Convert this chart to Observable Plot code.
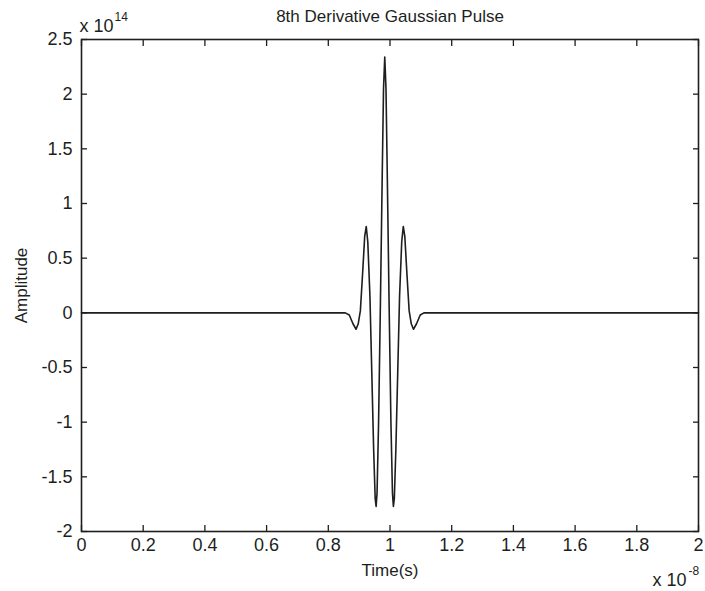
<!DOCTYPE html>
<html><head><meta charset="utf-8">
<script src="https://cdn.jsdelivr.net/npm/d3@7"></script>
<script src="https://cdn.jsdelivr.net/npm/@observablehq/plot@0.6"></script>
<style>html,body{margin:0;padding:0;background:#fff} svg{display:block}</style>
</head><body><div id="chart"></div>
<script>
// time in units of 1e-8 s, amplitude in units of 1e14
const time = [0, 0.855, 0.868, 0.880, 0.890, 0.897, 0.904, 0.911, 0.918, 0.923, 0.928, 0.935, 0.941, 0.947, 0.952, 0.955, 0.958, 0.963, 0.969, 0.975, 0.979, 0.983, 0.987, 0.991, 0.997, 1.003, 1.008, 1.011, 1.014, 1.019, 1.025, 1.031, 1.038, 1.043, 1.048, 1.055, 1.062, 1.069, 1.076, 1.086, 1.098, 1.110, 2];
const amplitude = [0, 0, -0.02, -0.10, -0.15, -0.10, 0.02, 0.35, 0.70, 0.79, 0.65, 0.15, -0.55, -1.25, -1.70, -1.77, -1.65, -1.00, 0.10, 1.30, 2.05, 2.34, 2.05, 1.30, 0.10, -1.00, -1.65, -1.77, -1.70, -1.25, -0.55, 0.15, 0.65, 0.79, 0.70, 0.35, 0.02, -0.10, -0.15, -0.10, -0.02, 0, 0];
const xTicks = [0, 0.2, 0.4, 0.6, 0.8, 1, 1.2, 1.4, 1.6, 1.8, 2];
const yTicks = [-2, -1.5, -1, -0.5, 0, 0.5, 1, 1.5, 2, 2.5];
const title = "8th Derivative Gaussian Pulse";
const xLabel = "Time(s)";
const yLabel = "Amplitude";
const xExponent = "-8";
const yExponent = "14";
const base = "x 10";

const data = time.map((t, i) => ({t, a: amplitude[i]}));
const font = "'Liberation Sans', Arial, Helvetica, sans-serif";
const ink = "#1c1f1c";
const fmt = d => String(d);

const chart = Plot.plot({
  width: 705, height: 591,
  marginLeft: 81, marginRight: 7, marginTop: 39, marginBottom: 60,
  style: {fontFamily: font, fontSize: "18px", background: "#fff", color: ink},
  x: {domain: [0, 2]},
  y: {domain: [-2, 2.5]},
  marks: [
    // tick labels
    Plot.axisX(xTicks, {anchor: "bottom", tickSize: 0, tickPadding: 7, tickFormat: fmt, label: null, fill: ink, fontSize: 18}),
    Plot.axisY(yTicks, {anchor: "left", tickSize: 0, tickPadding: 9, tickFormat: fmt, label: null, fill: ink, fontSize: 18}),
    // inward ticks on all four sides
    Plot.axisX(xTicks, {anchor: "bottom", tickSize: 6, dy: -6, tickFormat: () => "", label: null, stroke: ink, strokeWidth: 1.3}),
    Plot.axisX(xTicks, {anchor: "top", tickSize: 6, dy: 6, tickFormat: () => "", label: null, stroke: ink, strokeWidth: 1.3}),
    Plot.axisY(yTicks, {anchor: "left", tickSize: 6, dx: 6, tickFormat: () => "", label: null, stroke: ink, strokeWidth: 1.3}),
    Plot.axisY(yTicks, {anchor: "right", tickSize: 6, dx: -6, tickFormat: () => "", label: null, stroke: ink, strokeWidth: 1.3}),
    Plot.frame({stroke: ink, strokeWidth: 1.6}),
    // signal
    Plot.line(data, {x: "t", y: "a", stroke: ink, strokeWidth: 1.6}),
    // title & labels
    Plot.text([title], {frameAnchor: "top", lineAnchor: "bottom", dy: -18, fontSize: 17, fill: ink}),
    Plot.text([xLabel], {frameAnchor: "bottom", textAnchor: "middle", lineAnchor: "bottom", dy: 44, fontSize: 17, fill: ink}),
    Plot.text([yLabel], {frameAnchor: "left", textAnchor: "middle", lineAnchor: "middle", rotate: -90, dx: -60, fontSize: 17, fill: ink}),
    // exponents
    Plot.text([base], {frameAnchor: "top-left", textAnchor: "start", lineAnchor: "bottom", dx: -2, dy: -8, fontSize: 18, fill: ink}),
    Plot.text([yExponent], {frameAnchor: "top-left", textAnchor: "start", lineAnchor: "bottom", dx: 33, dy: -19, fontSize: 12, fill: ink}),
    Plot.text([base], {frameAnchor: "bottom-right", textAnchor: "start", lineAnchor: "bottom", dx: -46, dy: 54, fontSize: 18, fill: ink}),
    Plot.text([xExponent], {frameAnchor: "bottom-right", textAnchor: "start", lineAnchor: "bottom", dx: -10, dy: 43, fontSize: 12, fill: ink})
  ]
});
document.getElementById("chart").appendChild(chart);
</script>
</body></html>
